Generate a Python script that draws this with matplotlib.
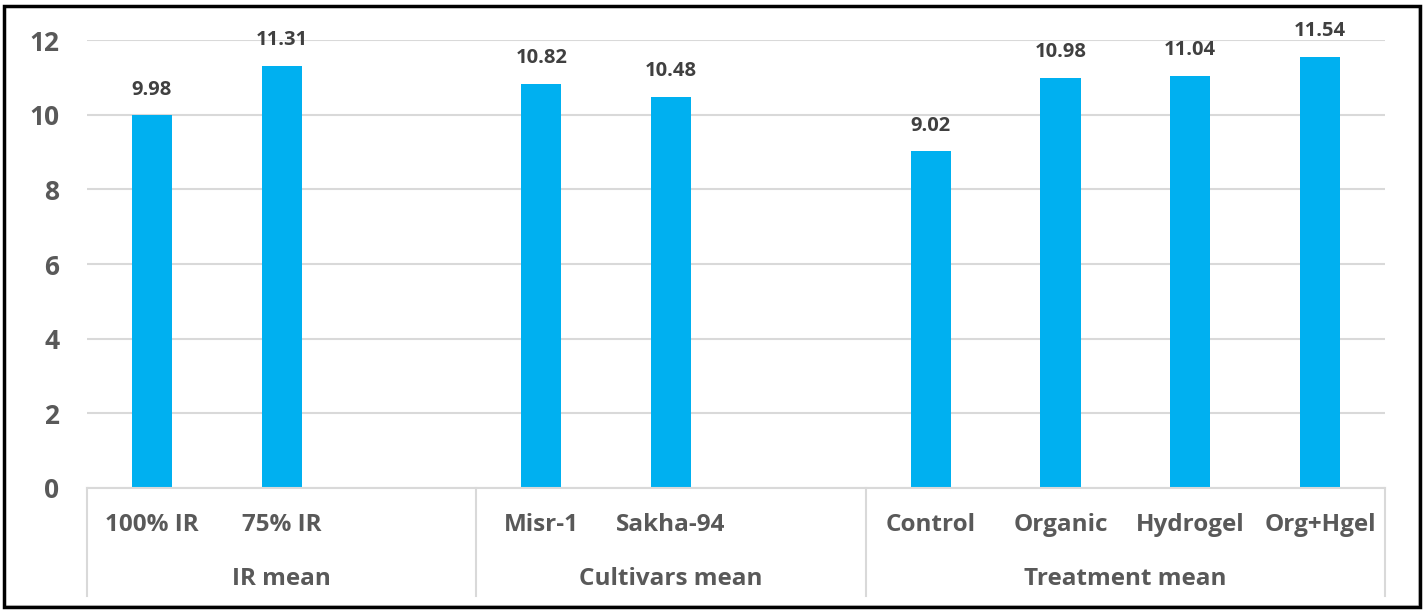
import matplotlib
matplotlib.use("Agg")
from matplotlib import pyplot as plt
from matplotlib.patches import Rectangle
from matplotlib.lines import Line2D

# chart data
groups = ["IR mean", "Cultivars mean", "Treatment mean"]
group_labels = [["100% IR", "75% IR"], ["Misr-1", "Sakha-94"],
                ["Control", "Organic", "Hydrogel", "Org+Hgel"]]
group_values = [[9.98, 11.31], [10.82, 10.48], [9.02, 10.98, 11.04, 11.54]]
group_slots = [3, 3, 4]  # excel leaves an empty slot after short groups
y_ticks = [0, 2, 4, 6, 8, 10, 12]

W, H = 1425, 610
plt.rcParams['font.family'] = ['Open Sans', 'DejaVu Sans']

fig = plt.figure(figsize=(W / 100, H / 100), dpi=100)
fig.patch.set_facecolor("white")

left, right, bottom, top = 87 / W, 1385 / W, 1 - 488 / H, 1 - 40 / H
ax = fig.add_axes([left, bottom, right - left, top - bottom])

bar_color = "#00B0F0"
text_gray = "#595959"

x_pos = []
labels = []
values = []
start = 0
bounds = [0]
for slots, labs, vals in zip(group_slots, group_labels, group_values):
    for i, (lab, v) in enumerate(zip(labs, vals)):
        x_pos.append(start + i + 0.5)
        labels.append(lab)
        values.append(v)
    start += slots
    bounds.append(start)

bars = ax.bar(x_pos, values, width=0.31, color=bar_color, zorder=3)
for b, v in zip(bars, values):
    ax.text(b.get_x() + b.get_width() / 2, v + 0.42, f"{v:.2f}",
            ha="center", va="bottom", fontsize=14.5, fontweight="bold",
            color="#404040")

ax.set_xlim(0, bounds[-1])
ax.set_ylim(0, 12)
ax.set_yticks(y_ticks)
ax.set_yticklabels([str(t) for t in y_ticks], fontsize=19, fontweight="bold",
                   color=text_gray)
ax.tick_params(axis="y", length=0, pad=20)
ax.set_xticks([])
ax.grid(axis="y", color="#D9D9D9", linewidth=1.5, zorder=0)
ax.set_axisbelow(True)
for s in ["top", "right", "left"]:
    ax.spines[s].set_visible(False)
ax.spines["bottom"].set_color("#D9D9D9")
ax.spines["bottom"].set_linewidth(1.5)
ax.spines["bottom"].set_zorder(4)

# category labels under the axis
for x, lab in zip(x_pos, labels):
    ax.text(x, -1.0, lab, ha="center", va="center",
            fontsize=17.5, fontweight="bold", color=text_gray, clip_on=False)

for i, g in enumerate(groups):
    mid = (bounds[i] + bounds[i + 1]) / 2
    ax.text(mid, -2.45, g, ha="center", va="center", fontsize=17.5,
            fontweight="bold", color=text_gray, clip_on=False)

# separators between groups
for b in bounds:
    ax.add_line(Line2D([b, b], [0, -2.9], color="#D9D9D9", linewidth=1.5,
                       clip_on=False))

# outer frame
fig.add_artist(Rectangle((5 / W, 4 / H), 1414 / W, 599 / H, transform=fig.transFigure,
                         fill=False, edgecolor="#D9D9D9", linewidth=1.5))
fig.add_artist(Rectangle((4 / W, 3 / H), 1416 / W, 601 / H, transform=fig.transFigure,
                         fill=False, edgecolor="black", linewidth=2.5))

fig.savefig("out.png", dpi=100)
